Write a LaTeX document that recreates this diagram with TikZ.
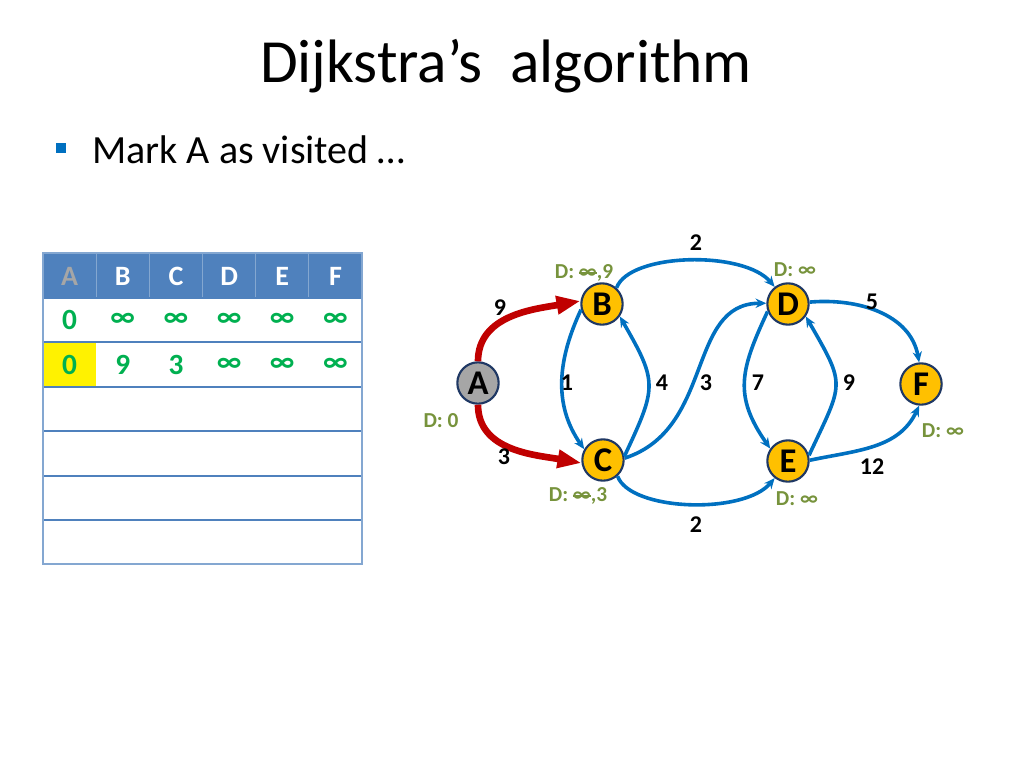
\documentclass[tikz,border=0pt]{standalone}
\usepackage{fontspec}
\setmainfont{Carlito}
\usetikzlibrary{arrows.meta}

\definecolor{nodefill}{HTML}{FFC000}
\definecolor{nodeline}{HTML}{1F3864}
\definecolor{visited}{HTML}{A6A6A6}
\definecolor{edgeblue}{HTML}{0070C0}
\definecolor{edgered}{HTML}{C00000}
\definecolor{distgreen}{HTML}{77933C}
\definecolor{valgreen}{HTML}{00B050}
\definecolor{headblue}{HTML}{4F81BD}
\definecolor{headgray}{HTML}{A6A6A6}

\newsavebox{\infbox}
\newcommand{\struckinf}{\sbox{\infbox}{∞}\rlap{\rule[0.22em]{\wd\infbox}{0.09em}}\usebox{\infbox}}

\tikzset{
  vertex/.style={circle, draw=nodeline, line width=1.6pt, fill=nodefill,
    minimum size=31pt, inner sep=0pt, font=\bfseries\fontsize{26}{26}\selectfont},
  blueedge/.style={draw=edgeblue, line width=2.7pt, -{Stealth[length=8pt,width=7pt]}},
  rededge/.style={draw=edgered, line width=5pt, -{Triangle[length=18pt,width=13pt]}},
  weight/.style={font=\bfseries\fontsize{18}{18}\selectfont},
  dist/.style={text=distgreen, font=\bfseries\fontsize{16}{16}\selectfont},
  headcell/.style={text=white, font=\bfseries\fontsize{21}{21}\selectfont},
  valcell/.style={text=valgreen, font=\bfseries\fontsize{22}{22}\selectfont},
}

\begin{document}
\begin{tikzpicture}[x=0.75pt, y=-0.75pt]
  \useasboundingbox (0,0) rectangle (1024,768);

  % title and bullet
  \node[anchor=base, inner sep=0pt, font=\fontsize{46}{46}\selectfont] (title) at (506,82) {Dijkstra’s~~algorithm};
  \fill[edgeblue] (56,143) rectangle (66,153);
  \node[anchor=base west, inner sep=0pt, font=\fontsize{30}{30}\selectfont] (step) at (92,163) {Mark A as visited …};

  % table
  \fill[headblue] (43,253) rectangle (362,298);
  \fill[yellow] (43,342) rectangle (96,387);
  \foreach \x in {96,149,202,255,308}
    \draw[white, opacity=0.3, line width=0.6pt] (\x,253) -- (\x,298);
  \foreach \y in {298,342,387,431,476,520}
    \draw[headblue, line width=0.8pt] (43,\y) -- (362,\y);
  \draw[headblue!70, line width=0.8pt] (43,253) rectangle (362,564);

  \node[headcell, text=headgray] (hA) at (69.6,276) {A};
  \foreach \c [count=\i] in {B,C,D,E,F}
    \node[headcell] (h\c) at (69.6+53.17*\i,276) {\c};

  \node[valcell] (r1A) at (69.6,320) {0};
  \foreach \c [count=\i] in {B,C,D,E,F}
    \node[valcell] (r1\c) at (69.6+53.17*\i,320) {∞};
  \foreach \c/\v [count=\i from 0] in {A/0,B/9,C/3,D/∞,E/∞,F/∞}
    \node[valcell] (r2\c) at (69.6+53.17*\i,364.5) {\v};

  % graph
  \node[vertex, fill=visited] (A) at (478,383) {A};
  \node[vertex] (B) at (602,304) {B};
  \node[vertex] (C) at (603,460) {C};
  \node[vertex] (D) at (788,304) {D};
  \node[vertex] (E) at (788,461) {E};
  \node[vertex] (F) at (921,384) {F};

  \draw[rededge] (A.90) to[out=90,in=190] (B.172);
  \draw[rededge] (A.-90) to[out=-90,in=170] (C.188);
  \draw[blueedge] (B.195) to[out=-115,in=125] (C.150);
  \draw[blueedge] (C.10) to[out=65,in=-60,looseness=1.4] (B.-35);
  \draw[blueedge] (C.5) to[out=18,in=180,out distance=71pt,in distance=60pt] (D.178);
  \draw[blueedge] (B.48) to[out=70,in=130,out distance=28pt,in distance=36pt] (D.128);
  \draw[blueedge] (C.-48) to[out=-70,in=-130,out distance=28pt,in distance=36pt] (E.-128);
  \draw[blueedge] (D.200) to[out=-115,in=125,looseness=1.2] (E.145);
  \draw[blueedge] (E.15) to[out=65,in=-60,looseness=1.5] (D.-35);
  \draw[blueedge] (D.5) to[out=5,in=100] (F.95);
  \draw[blueedge] (E.2) to[out=12,in=-115] (F.-95);

  % weights
  \node[weight] (wAB) at (500,308) {9};
  \node[weight] (wAC) at (504,457) {3};
  \node[weight] (wBC) at (567,383) {1};
  \node[weight] (wCB) at (662,383) {4};
  \node[weight] (wCD) at (706,383) {3};
  \node[weight] (wBD) at (696,243) {2};
  \node[weight] (wCE) at (696,525) {2};
  \node[weight] (wDE) at (758,383) {7};
  \node[weight] (wED) at (849,383) {9};
  \node[weight] (wDF) at (872,302) {5};
  \node[weight] (wEF) at (872,467) {12};

  % distances
  \node[dist] (dA) at (441,421) {D: 0};
  \node[dist] (dB) at (584,273) {D: \struckinf,9};
  \node[dist] (dC) at (578,496) {D: \struckinf,3};
  \node[dist] (dD) at (795,270) {D: ∞};
  \node[dist] (dE) at (797,499) {D: ∞};
  \node[dist] (dF) at (943,431) {D: ∞};
\end{tikzpicture}
\end{document}
